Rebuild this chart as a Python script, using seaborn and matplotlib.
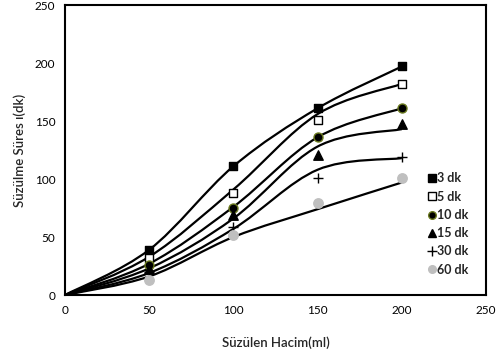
import matplotlib
matplotlib.use("Agg")
import matplotlib.pyplot as plt
from matplotlib.lines import Line2D
from matplotlib.path import Path
from matplotlib.patches import PathPatch
import seaborn as sns
import pandas as pd
import numpy as np

volume = [0, 50, 100, 150, 200]
series_names = ["3 dk", "5 dk", "10 dk", "15 dk", "30 dk", "60 dk"]
# measured points (markers)
marker_x = [50, 100, 150, 200]
t3 = [39, 111, 161, 197]
t5 = [32, 88, 151, 182]
t10 = [26, 75, 136, 161]
t15 = [22, 69, 121, 147]
t30 = [20, 59, 101, 119]
t60 = [13, 52, 79, 101]
values = [t3, t5, t10, t15, t30, t60]
# smoothed lines (as drawn in the chart)
c3 = [0, 39, 111, 161, 197]
c5 = [0, 33, 91, 156, 182]
c10 = [0, 27, 76, 136, 161]
c15 = [0, 23, 66, 128, 143]
c30 = [0, 19, 57, 108, 118]
c60 = [0, 16, 50, 74, 97]
curves = [c3, c5, c10, c15, c30, c60]

sns.set_theme(style="white")
plt.rcParams["font.family"] = ["Lato", "DejaVu Sans"]

styles = {
    "3 dk": dict(marker="s", s=36, color="black", edgecolor="black"),
    "5 dk": dict(marker="s", s=36, color="white", edgecolor="black"),
    "10 dk": dict(marker="o", s=42, color="black", edgecolor="#6b7a1f"),
    "15 dk": dict(marker="^", s=46, color="black", edgecolor="black"),
    "30 dk": dict(marker="+", s=60, color="black", edgecolor="black"),
    "60 dk": dict(marker="o", s=46, color="#bfbfbf", edgecolor="#bfbfbf"),
}


def smooth_path(xs, ys):
    """Excel-style smoothed line as cubic Bezier segments through the points."""
    P = np.column_stack([xs, ys]).astype(float)
    n = len(P)
    verts = [P[0]]
    codes = [Path.MOVETO]
    for i in range(n - 1):
        p0 = P[i - 1] if i > 0 else P[i]
        p1, p2 = P[i], P[i + 1]
        p3 = P[i + 2] if i + 2 < n else P[i + 1]
        c1 = p1 + (p2 - p0) / 6.0
        c2 = p2 - (p3 - p1) / 6.0
        verts += [c1, c2, p2]
        codes += [Path.CURVE4] * 3
    return Path(verts, codes)


fig = plt.figure(figsize=(4.98, 3.53), dpi=100)
ax = fig.add_axes([0.1305, 0.1643, 0.8455, 0.8215])

for name, vals, cv in zip(series_names, values, curves):
    ax.add_patch(PathPatch(smooth_path(volume, cv), facecolor="none",
                           edgecolor="black", lw=1.6, zorder=2))
    st = styles[name]
    df = pd.DataFrame({"x": marker_x, "y": vals})
    if st["marker"] == "+":
        sns.scatterplot(data=df, x="x", y="y", marker="+", s=st["s"],
                        color="black", linewidth=1, ax=ax, zorder=3)
    else:
        sns.scatterplot(data=df, x="x", y="y", marker=st["marker"], s=st["s"],
                        color=st["color"], edgecolor=st["edgecolor"],
                        linewidth=1, ax=ax, zorder=3)

ax.set_xlim(0, 250)
ax.set_ylim(0, 250)
ax.set_xticks([0, 50, 100, 150, 200, 250])
ax.set_yticks([0, 50, 100, 150, 200, 250])
ax.tick_params(axis="both", labelsize=8.5, length=0, pad=7, colors="black")
ax.set_xlabel("Süzülen Hacim(ml)", fontsize=9.5, fontweight="semibold", labelpad=15)
ax.set_ylabel("Süzülme Süres ı(dk)", fontsize=9.5, fontweight="semibold", labelpad=6)
for sp in ax.spines.values():
    sp.set_visible(True)
    sp.set_color("black")
    sp.set_linewidth(1.5)

handles = []
for name in series_names:
    st = styles[name]
    if st["marker"] == "+":
        h = Line2D([], [], linestyle="none", marker="+", markersize=7,
                   color="black", markeredgewidth=1)
    else:
        h = Line2D([], [], linestyle="none", marker=st["marker"], markersize=5.5,
                   markerfacecolor=st["color"], markeredgecolor=st["edgecolor"],
                   markeredgewidth=1)
    handles.append(h)
ax.legend(handles, series_names, loc="upper left", bbox_to_anchor=(0.85, 0.44),
          frameon=False, handlelength=0.6, handletextpad=0.15,
          labelspacing=0.5, borderaxespad=0, prop=dict(size=9, weight="bold"))

fig.savefig("out.png", dpi=100)
